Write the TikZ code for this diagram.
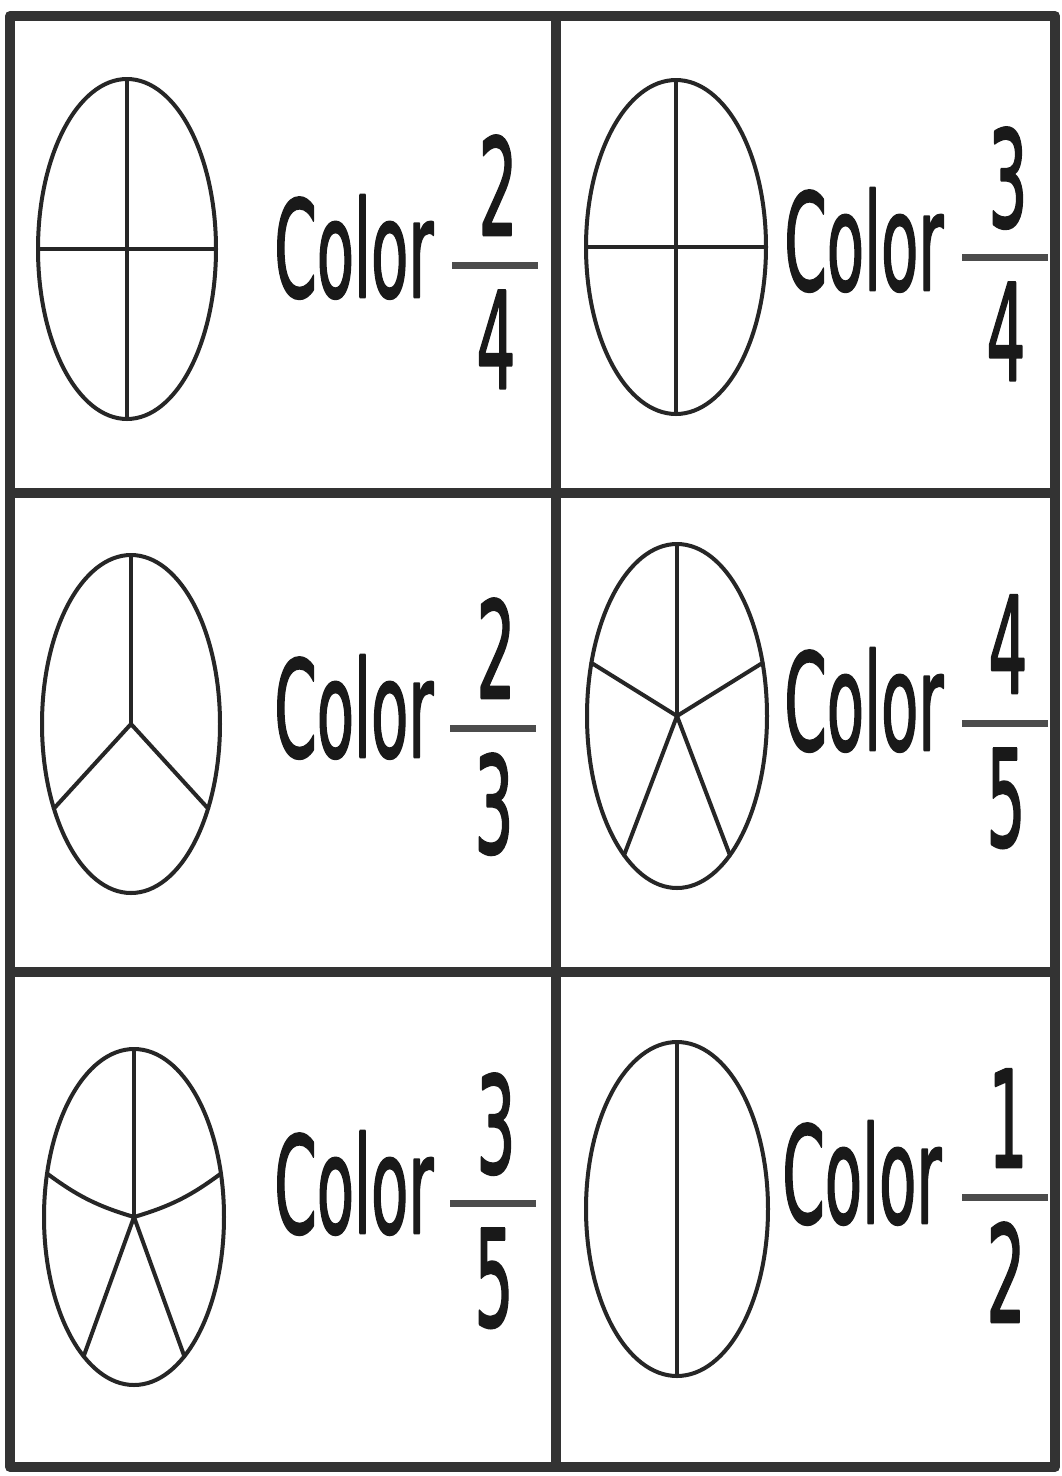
\documentclass[tikz,border=0pt]{standalone}
\usepackage{fontspec}
\setmainfont{DejaVu Sans}[BoldFont=DejaVu Sans, BoldFeatures={FakeBold=2}]
\begin{document}
\begin{tikzpicture}[x=1pt, y=-1pt, line cap=round, line join=round,
    gridline/.style={line width=10pt, draw=black!80, line cap=rect},
    pie/.style={line width=4pt, draw=black!85},
    word/.style={font=\fontsize{61}{70}\selectfont\bfseries, yscale=2.2, inner sep=0pt, text=black!90},
    fracbar/.style={line width=7pt, draw=black!70, line cap=butt}]

    % Sfondo e riquadro della pagina
    \useasboundingbox (0,0) rectangle (1061,1476);
    \fill[white] (0,0) rectangle (1061,1476);

    % Griglia 2 x 3
    \draw[gridline] (10,16) rectangle (1055,1467);
    \draw[gridline] (556,16) -- (556,1467);
    \draw[gridline] (10,493) -- (1055,493);
    \draw[gridline] (10,972) -- (1055,972);

    % Centri dei cerchi
    \coordinate (o1) at (127,249);
    \coordinate (o2) at (676,247);
    \coordinate (o3) at (131,724);
    \coordinate (o4) at (677,716);
    \coordinate (o5) at (134,1217);
    \coordinate (o6) at (677,1209);

    % Cerchi divisi in quarti
    \draw[pie] (o1) ellipse[x radius=89, y radius=170];
    \draw[pie] (o1) ++(-89,0) -- ++(178,0) (o1) ++(0,-170) -- ++(0,340);
    \draw[pie] (o2) ellipse[x radius=90, y radius=167];
    \draw[pie] (o2) ++(-90,0) -- ++(180,0) (o2) ++(0,-167) -- ++(0,334);

    % Cerchio in terzi
    \draw[pie] (o3) ellipse[x radius=89, y radius=169];
    \foreach \a in {-90,150,30}
        \draw[pie] (o3) -- ++(\a:89 and 169);

    % Cerchio in quinti
    \draw[pie] (o4) ellipse[x radius=90, y radius=172];
    \foreach \a in {-90,-18,-162,126,54}
        \draw[pie] (o4) -- ++(\a:90 and 172);

    % Cerchio in quinti (raggi superiori un po' curvi)
    \draw[pie] (o5) ellipse[x radius=90, y radius=168];
    \draw[pie] (o5) -- ++(-90:90 and 168);
    \draw[pie] (o5) to[bend left=10] ++(-165:90 and 168);
    \draw[pie] (o5) to[bend right=10] ++(-15:90 and 168);
    \draw[pie] (o5) -- ++(124:90 and 168) (o5) -- ++(56:90 and 168);

    % Cerchio a met\`a
    \draw[pie] (o6) ellipse[x radius=91, y radius=167];
    \draw[pie] (o6) ++(0,-167) -- ++(0,334);

    % Testi: Color e frazione
    \foreach \i/\tx/\ty/\bx/\by/\n/\d in {1/274/297/452/265/2/4, 2/784/290/962/257/3/4,
        3/274/757/450/728/2/3, 4/784/750/962/723/4/5,
        5/274/1233/450/1203/3/5, 6/782/1223/962/1197/1/2}{
        \node[word, anchor=base west] (color\i) at (\tx,\ty) {Color};
        \draw[fracbar] (\bx,\by) -- ++(86,0);
        \node[word, anchor=base] (num\i) at (\bx+46,\by-30) {\n};
        \node[word, anchor=north] (den\i) at (\bx+44,\by+25) {\d};
    }

\end{tikzpicture}
\end{document}
